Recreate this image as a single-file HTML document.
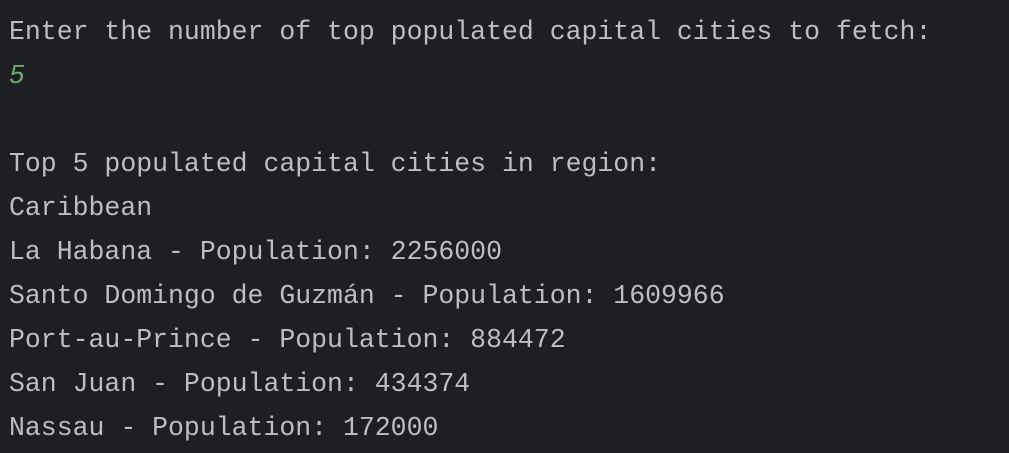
<!DOCTYPE html>
<html><head><meta charset="utf-8"><style>
html,body{margin:0;padding:0;width:1009px;height:453px;background:#1e1f22;overflow:hidden}
.term{position:absolute;left:9px;top:10px;font-family:"Liberation Mono","DejaVu Sans Mono",monospace;font-size:26.5px;color:#bcbec4}
.line{height:44px;line-height:44px;white-space:pre}
.in{color:#6aab73;font-style:italic}
</style></head><body>
<div class="term"><div class="line">Enter the number of top populated capital cities to fetch:</div><div class="line in">5</div><div class="line"> </div><div class="line">Top 5 populated capital cities in region:</div><div class="line">Caribbean</div><div class="line">La Habana - Population: 2256000</div><div class="line">Santo Domingo de Guzmán - Population: 1609966</div><div class="line">Port-au-Prince - Population: 884472</div><div class="line">San Juan - Population: 434374</div><div class="line">Nassau - Population: 172000</div></div>
</body></html>
